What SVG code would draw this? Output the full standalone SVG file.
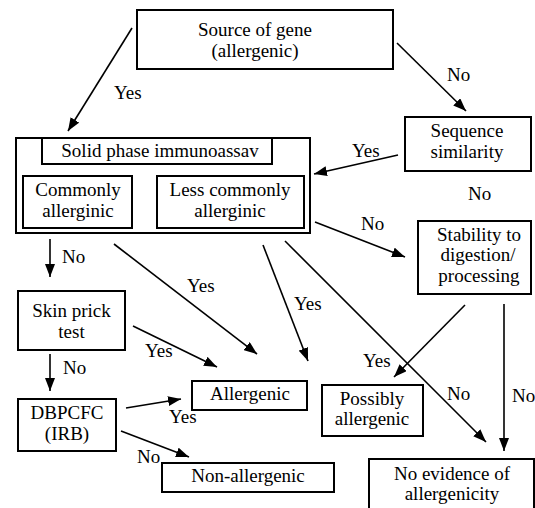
<svg xmlns="http://www.w3.org/2000/svg" width="535" height="508" viewBox="0 0 535 508" font-family="Liberation Serif, serif" font-size="19">
<style>
rect{fill:#fff;stroke:#000;stroke-width:2}
.c{text-anchor:middle}
.e line{stroke:#000;stroke-width:1.6;marker-end:url(#ah)}
</style>
<defs>
<marker id="ah" markerUnits="userSpaceOnUse" viewBox="0 0 13 10" markerWidth="13" markerHeight="10" refX="13" refY="5" orient="auto">
<path d="M0,0 L13,5 L0,10 z" fill="#000"/>
</marker>
</defs>
<rect x="0" y="0" width="535" height="508" style="stroke:none"/>
<g id="source"><rect x="137" y="10" width="256" height="59"/><text class="c" x="255" y="36">Source of gene</text><text class="c" x="255" y="57">(allergenic)</text></g>
<g id="main"><rect x="16" y="138" width="294" height="95"/></g>
<g id="solid"><rect x="42" y="138" width="230" height="26"/><text class="c" x="160" y="157">Solid phase immunoassav</text></g>
<g id="commonly"><rect x="23" y="176" width="109" height="52"/><text class="c" x="78" y="196">Commonly</text><text class="c" x="78" y="217">allerginic</text></g>
<g id="lesscommonly"><rect x="157" y="176" width="147" height="52"/><text class="c" x="230" y="196">Less commonly</text><text class="c" x="230" y="217">allerginic</text></g>
<g id="sequence"><rect x="405" y="117" width="126" height="54"/><text class="c" x="467" y="137">Sequence</text><text class="c" x="467" y="158">similarity</text></g>
<g id="stability"><rect x="418" y="221" width="113" height="73"/><text class="c" x="479" y="241">Stability to</text><text class="c" x="478" y="261">digestion/</text><text class="c" x="479" y="282">processing</text></g>
<g id="skin"><rect x="18" y="291" width="107" height="59"/><text class="c" x="71.5" y="317">Skin prick</text><text class="c" x="71.5" y="338">test</text></g>
<g id="dbpcfc"><rect x="18" y="399" width="98" height="52"/><text class="c" x="67" y="419">DBPCFC</text><text class="c" x="67" y="440">(IRB)</text></g>
<g id="allergenic"><rect x="192" y="381" width="115" height="29"/><text class="c" x="250" y="400">Allergenic</text></g>
<g id="possibly"><rect x="322" y="385" width="101" height="51"/><text class="c" x="372" y="405">Possibly</text><text class="c" x="372" y="425">allergenic</text></g>
<g id="nonallergenic"><rect x="162" y="463" width="172" height="29"/><text class="c" x="248" y="482">Non-allergenic</text></g>
<g id="noevidence"><rect x="369" y="459" width="165" height="60"/><text class="c" x="452" y="480">No evidence of</text><text class="c" x="452" y="500">allergenicity</text></g>
<g id="connectors" class="e">
<line x1="132" y1="28" x2="68" y2="131"/>
<line x1="397" y1="43" x2="466" y2="111"/>
<line x1="398" y1="155" x2="314" y2="174"/>
<line x1="315" y1="222" x2="405" y2="257"/>
<line x1="50" y1="239" x2="50" y2="277"/>
<line x1="50" y1="354" x2="50" y2="391"/>
<line x1="114" y1="244" x2="257" y2="354"/>
<line x1="263" y1="245" x2="308" y2="361"/>
<line x1="285" y1="241" x2="486" y2="442"/>
<line x1="133" y1="326" x2="217" y2="367"/>
<line x1="126" y1="408" x2="181" y2="399"/>
<line x1="121" y1="431" x2="189" y2="457"/>
<line x1="465" y1="305" x2="394" y2="377"/>
<line x1="504" y1="304" x2="504" y2="451"/>
</g>
<g id="labels">
<text x="114" y="99">Yes</text>
<text x="447" y="81">No</text>
<text x="352" y="157">Yes</text>
<text x="468" y="200">No</text>
<text x="361" y="230">No</text>
<text x="62" y="263">No</text>
<text x="187" y="292">Yes</text>
<text x="294" y="310">Yes</text>
<text x="145" y="357">Yes</text>
<text x="63" y="374">No</text>
<text x="169" y="423">Yes</text>
<text x="137" y="463">No</text>
<text x="363" y="367">Yes</text>
<text x="447" y="400">No</text>
<text x="512" y="402">No</text>
</g>
</svg>
